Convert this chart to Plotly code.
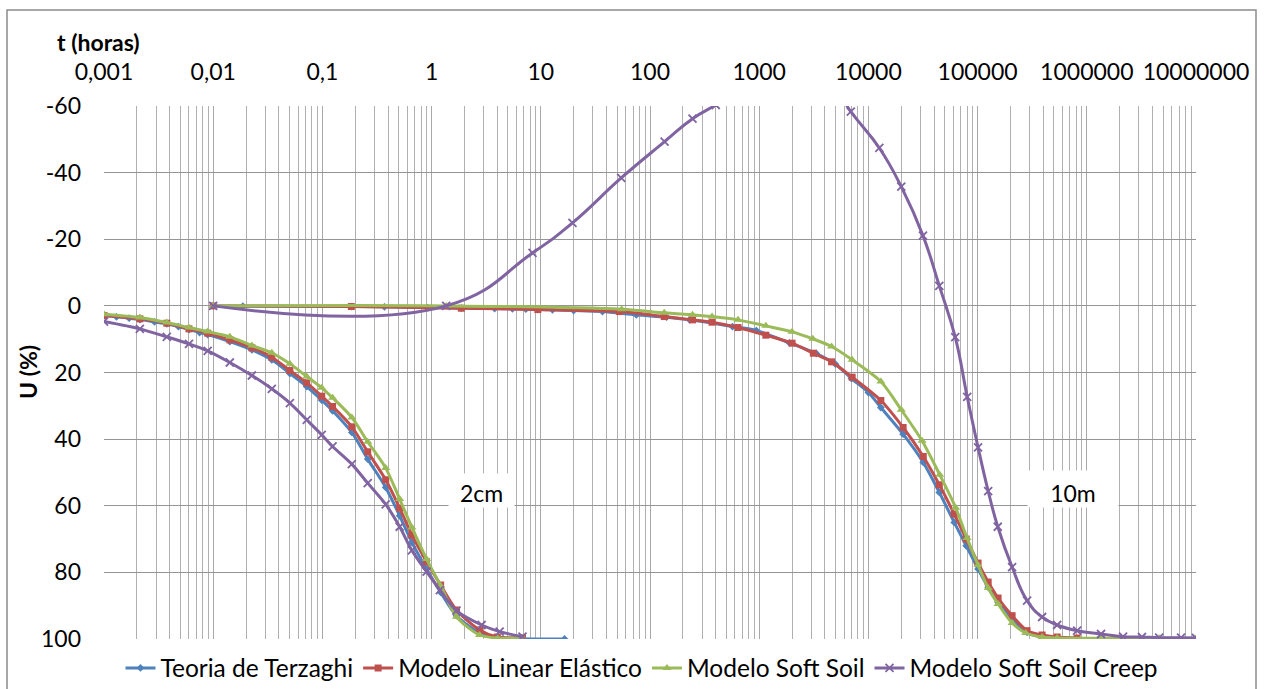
import plotly.graph_objects as go

# ---------------- data ----------------
# 2 cm layer
t_terz_2cm = [0.001, 0.0013, 0.0017, 0.00213, 0.0029, 0.00376, 0.0048, 0.006, 0.0075, 0.0089,
              0.0142, 0.0226, 0.0344, 0.0504, 0.0719, 0.0986, 0.124, 0.186, 0.26, 0.38, 0.51,
              0.66, 0.90, 1.21, 1.69, 2.75, 4.0, 6.8, 16.5]
u_terz_2cm = [3.0, 3.3, 3.7, 4.1, 4.8, 5.4, 6.2, 7.1, 8.0, 8.6,
              10.7, 13.2, 16.2, 20.3, 24.2, 28.3, 31.5, 38.0, 46.0, 54.5, 63.0,
              71.0, 79.0, 86.0, 93.0, 98.2, 99.6, 99.9, 100.0]

t_lin_2cm = [0.001, 0.00213, 0.00376, 0.006, 0.0089, 0.0142, 0.0226, 0.0344, 0.0504, 0.0719,
             0.0986, 0.124, 0.186, 0.26, 0.38, 0.51, 0.66, 0.90, 1.21, 1.69, 2.75, 4.0, 6.8]
u_lin_2cm = [2.9, 3.9, 5.2, 6.9, 8.2, 10.2, 12.6, 15.4, 19.4, 23.1,
             27.1, 30.2, 36.3, 43.8, 52.2, 60.7, 68.8, 76.8, 83.8, 91.3, 97.3, 99.4, 99.6]

t_ss_2cm = [0.001, 0.00213, 0.00376, 0.006, 0.0089, 0.0142, 0.0226, 0.0344, 0.0504, 0.0719,
            0.0986, 0.124, 0.186, 0.26, 0.38, 0.51, 0.66, 0.90, 1.21, 1.69, 2.75, 4.0, 6.8]
u_ss_2cm = [2.5, 3.5, 5.0, 6.5, 7.7, 9.3, 11.9, 14.1, 17.4, 21.2,
            24.6, 27.6, 33.5, 40.8, 48.7, 58.0, 66.5, 76.0, 84.0, 93.3, 98.8, 99.7, 99.7]

t_ssc_2cm = [0.001, 0.00213, 0.00376, 0.006, 0.0089, 0.0142, 0.0226, 0.0344, 0.0504, 0.0719,
             0.0986, 0.124, 0.186, 0.26, 0.38, 0.51, 0.66, 0.90, 1.19, 1.69, 2.87, 4.2, 6.8]
u_ssc_2cm = [4.7, 6.9, 9.3, 11.4, 13.5, 17.0, 20.9, 24.9, 29.2, 34.2,
             38.7, 42.2, 47.5, 53.2, 59.6, 66.3, 73.4, 79.8, 85.3, 91.5, 95.8, 97.8, 99.3]

# 10 m layer
t_terz_10m = [0.01, 0.0187, 0.184, 0.37, 0.92, 1.87, 3.78, 5.5, 7.3, 9.4, 12.8, 20, 36.7, 75,
              142, 230, 569, 942, 1888, 3334, 5000, 7000, 10000, 13000, 20800, 31800, 44600,
              61100, 78700, 101000, 125000, 154000, 207000, 284000, 390000, 535000, 815000,
              1350000, 2200000]
u_terz_10m = [0.0, 0.1, 0.2, 0.3, 0.5, 0.7, 0.8, 0.9, 1.0, 1.1, 1.2, 1.4, 1.7, 2.7,
              3.4, 4.2, 6.2, 7.4, 11.1, 14.3, 17.5, 21.8, 26.0, 30.5, 38.5, 47.0, 56.0,
              65.0, 72.0, 79.0, 84.5, 89.0, 94.0, 98.0, 99.4, 99.8, 100.0,
              100.0, 100.0]

t_lin_10m = [0.01, 0.184, 1.87, 9.4, 52.5, 135, 245, 370, 640, 1150, 2000, 3130, 4600, 7100,
             13000, 20800, 31800, 44600, 61100, 78700, 101000, 125000, 154000, 207000, 284000,
             390000, 535000, 815000]
u_lin_10m = [0.0, 0.2, 0.7, 1.1, 1.7, 3.2, 4.2, 4.9, 6.5, 8.8, 11.2, 14.2, 16.8, 21.4,
             28.4, 36.5, 45.2, 53.7, 62.5, 70.0, 77.2, 82.9, 87.7, 93.0, 97.5,
             98.8, 99.4, 99.7]

t_ss_10m = [0.01, 1.36, 55, 135, 245, 370, 640, 1150, 2000, 3100, 4600, 7100, 13000, 20000,
            31000, 45000, 63000, 80000, 101000, 125000, 154000, 207000, 276000, 390000, 535000,
            1350000, 2200000, 4600000, 10000000]
u_ss_10m = [0.0, 0.0, 1.0, 2.1, 2.7, 3.2, 4.2, 6.0, 7.8, 9.9, 12.2, 16.2, 22.7, 31.2,
            40.5, 50.7, 60.6, 69.7, 77.8, 84.7, 89.5, 95.2, 98.2, 99.4, 99.7,
            99.8, 99.8, 99.8, 99.8]

t_ssc_10m = [0.01, 1.36, 8.4, 19.5, 54.5, 136, 245, 400, 1200, 3500, 6900, 12600, 20000,
             31600, 44600, 62400, 80300, 101000, 125000, 153000, 207000, 284000, 390000,
             535000, 815000, 1350000, 2150000, 3200000, 4600000, 7300000, 10000000]
u_ssc_10m = [0.0, 0.0, -15.9, -24.9, -38.4, -49.3, -56.2, -60.3, -70.0, -72.0, -58.3, -47.4, -35.8,
             -21.1, -6.0, 9.4, 27.3, 42.5, 55.6, 66.3, 78.4, 88.5, 93.4,
             95.8, 97.5, 98.5, 99.3, 99.4, 99.6, 99.6, 99.7]

series_names = ["Teoria de Terzaghi", "Modelo Linear Elástico", "Modelo Soft Soil",
                "Modelo Soft Soil Creep"]

x_tick_vals = [0.001, 0.01, 0.1, 1, 10, 100, 1000, 10000, 100000, 1000000, 10000000]
x_tick_text = ["0,001", "0,01", "0,1", "1", "10", "100", "1000", "10000", "100000",
               "1000000", "10000000"]
y_tick_vals = [-60, -40, -20, 0, 20, 40, 60, 80, 100]
y_tick_text = ["-60", "-40", "-20", "0", "20", "40", "60", "80", "100"]

# ---------------- styling ----------------
FONT = "Lato"
colors = ["#4F81BD", "#C0504D", "#9BBB59", "#8064A2"]
markers = [
    dict(symbol="diamond", size=6),
    dict(symbol="square", size=7),
    dict(symbol="triangle-up", size=8),
    dict(symbol="x-thin", size=8),
]

data_sets = [
    [(t_terz_2cm, u_terz_2cm), (t_terz_10m, u_terz_10m)],
    [(t_lin_2cm, u_lin_2cm), (t_lin_10m, u_lin_10m)],
    [(t_ss_2cm, u_ss_2cm), (t_ss_10m, u_ss_10m)],
    [(t_ssc_2cm, u_ssc_2cm), (t_ssc_10m, u_ssc_10m)],
]

fig = go.Figure()
for i, (name, col, mk, sets) in enumerate(zip(series_names, colors, markers, data_sets)):
    for j, (tx, uy) in enumerate(sets):
        m = dict(mk)
        m["color"] = col
        if mk["symbol"] == "x-thin":
            m["line"] = dict(width=1.8, color=col)
        else:
            m["line"] = dict(width=0)
        smooth = 1.3 if (i == 3 and j == 1) else 0.8
        fig.add_trace(go.Scatter(
            x=tx, y=uy, mode="lines+markers", name=name,
            legendgroup=name, showlegend=(j == 0),
            line=dict(color=col, width=3, shape="spline", smoothing=smooth),
            marker=m,
        ))

minor_vals = [k * 10 ** e for e in range(-3, 7) for k in range(2, 10)]

fig.update_xaxes(
    type="log", range=[-3, 7], side="top",
    tickmode="array", tickvals=x_tick_vals, ticktext=x_tick_text,
    showgrid=True, gridcolor="#a8a8a8", gridwidth=1.3,
    minor=dict(tickmode="array", tickvals=minor_vals, showgrid=True,
               gridcolor="#b0b0b0", gridwidth=1.3, ticks=""),
    ticks="", ticklabelstandoff=20,
    tickfont=dict(family=FONT, size=23, color="#000"),
    showline=False, zeroline=False,
)
fig.update_yaxes(
    range=[100, -60], tickmode="array", tickvals=y_tick_vals, ticktext=y_tick_text,
    showgrid=True, gridcolor="#959595", gridwidth=1.3,
    ticks="", ticklabelstandoff=22,
    tickfont=dict(family=FONT, size=23, color="#000"),
    showline=False, zeroline=False,
)

L, R, T, B = 104, 68, 106, 50
W, H = 1264, 689
pw, ph = W - L - R, H - T - B

def px(xp):
    return (xp - L) / pw

def py(yp):
    return (H - B - yp) / ph

fig.update_layout(
    width=W, height=H,
    margin=dict(l=L, r=R, t=T, b=B, pad=0, autoexpand=False),
    paper_bgcolor="white", plot_bgcolor="white",
    font=dict(family=FONT, size=23, color="#000"),
    showlegend=True,
    legend=dict(orientation="h", xref="container", yref="container",
                x=642 / W, xanchor="center", y=1 - 668 / H, yanchor="middle",
                font=dict(family=FONT, size=24.5, color="#000"), bgcolor="rgba(0,0,0,0)",
                itemwidth=30, tracegroupgap=0),
    annotations=[
        dict(text="<b>t (horas)</b>", xref="paper", yref="paper", x=px(55), y=py(42),
             xanchor="left", yanchor="middle", showarrow=False,
             font=dict(family=FONT, size=23, color="#000")),
        dict(text="<b>U (%)</b>", xref="paper", yref="paper", x=px(28), y=py(372),
             xanchor="center", yanchor="middle", showarrow=False, textangle=-90,
             font=dict(family=FONT, size=23, color="#000")),
        dict(text="2cm", xref="x", yref="y", x=0.46, y=55.3, showarrow=False,
             bgcolor="white", width=65, height=33, borderpad=0, valign="bottom",
             font=dict(family=FONT, size=23, color="#000")),
        dict(text="10m", xref="x", yref="y", x=5.874, y=55.0, showarrow=False,
             bgcolor="white", width=90, height=36, borderpad=0, valign="bottom",
             font=dict(family=FONT, size=23, color="#000")),
    ],
    shapes=[
        dict(type="rect", xref="paper", yref="paper", x0=px(7), x1=px(1256), y0=py(693), y1=py(10),
             line=dict(color="#8c8c8c", width=1.5), fillcolor="rgba(0,0,0,0)", layer="below"),
    ],
)

fig.write_html("out.html")
